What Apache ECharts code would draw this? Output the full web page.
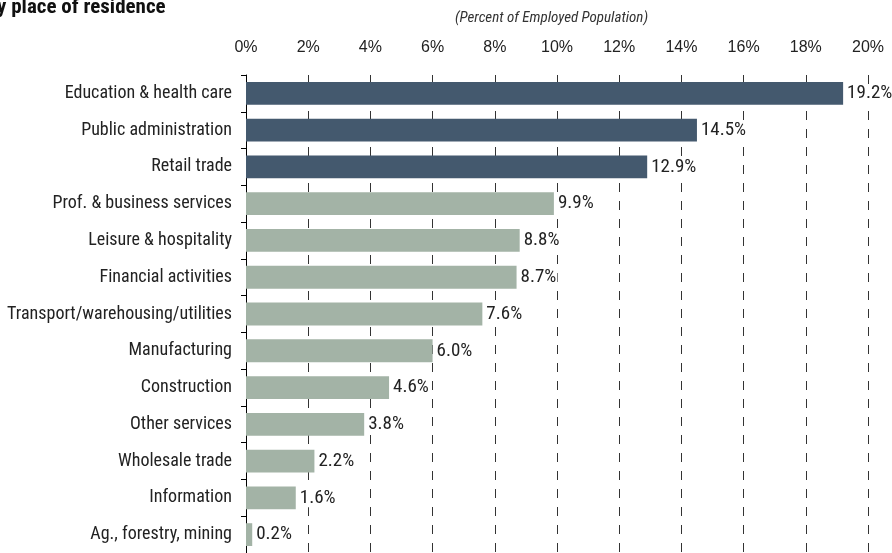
<!DOCTYPE html>
<html><head><meta charset="utf-8">
<script src="https://cdn.jsdelivr.net/npm/echarts@6/dist/echarts.min.js"></script>
<style>html,body{margin:0;padding:0;background:#fff}#c{width:892px;height:553px}</style>
</head><body><div id="c"></div>
<script>
const categories = ["Education & health care","Public administration","Retail trade","Prof. & business services","Leisure & hospitality","Financial activities","Transport/warehousing/utilities","Manufacturing","Construction","Other services","Wholesale trade","Information","Ag., forestry, mining"];
const values = [19.2,14.5,12.9,9.9,8.8,8.7,7.6,6.0,4.6,3.8,2.2,1.6,0.2];
const highlighted = [true,true,true,false,false,false,false,false,false,false,false,false,false];
const titleText = "y place of residence";
const subtitleText = "(Percent of Employed Population)";
const F = "'Roboto Condensed','Liberation Sans',Arial,sans-serif";
const FA = "'Liberation Sans',Arial,sans-serif";
const chart = echarts.init(document.getElementById('c'));
chart.setOption({
  animation:false,
  graphic:[
    {type:'text',left:-3,top:-3,style:{text:titleText,font:"bold 21px "+F,fill:'#111'}},
    {type:'text',left:455,top:11,style:{text:subtitleText,font:"italic 15px "+F,fill:'#333'}}
  ],
  grid:{left:246,right:24,top:75,bottom:-3,containLabel:false},
  xAxis:{type:'value',position:'top',min:0,max:20,interval:2,
    axisLabel:{formatter:v=>v+'%',fontFamily:FA,fontSize:16,color:'#222',margin:19},
    axisLine:{show:false},axisTick:{show:false},
    splitLine:{show:true,lineStyle:{color:'#333',type:[9,9],width:1}}},
  yAxis:{type:'category',inverse:true,data:categories,
    axisLine:{show:true,lineStyle:{color:'#000',width:1}},
    axisTick:{show:true,length:5,lineStyle:{color:'#000'}},
    axisLabel:{fontFamily:F,fontSize:18,color:'#222',margin:14}},
  series:[{type:'bar',barWidth:'62%',
    data:values.map((v,i)=>({value:v,itemStyle:{color:highlighted[i]?'#44596e':'#a3b3a6'}})),
    label:{show:true,position:'right',distance:3,formatter:p=>p.value.toFixed(1)+'%',fontFamily:F,fontSize:19,color:'#222',backgroundColor:'#fff',padding:[0,1]}}]
});
</script></body></html>
